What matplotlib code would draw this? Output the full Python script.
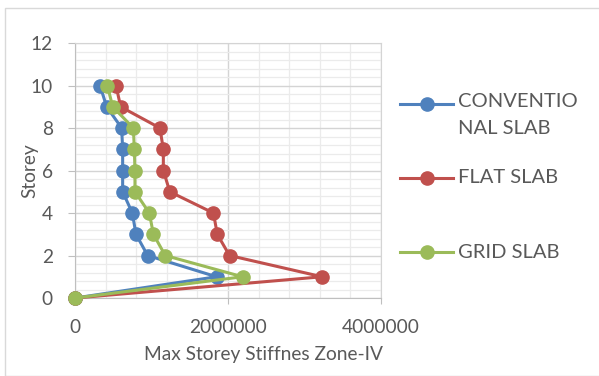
import matplotlib.pyplot as plt
from matplotlib.lines import Line2D
from matplotlib.patches import Rectangle
from matplotlib.ticker import MultipleLocator

storey = [0, 1, 2, 3, 4, 5, 6, 7, 8, 9, 10]
conventional = [0, 1850000, 950000, 797000, 750000, 623000, 623000, 623000, 610000, 414000, 327000]
flat = [0, 3230000, 2020000, 1860000, 1810000, 1240000, 1155000, 1155000, 1110000, 597000, 536000]
grid = [0, 2190000, 1180000, 1025000, 972000, 784000, 784000, 776000, 763000, 493000, 423000]

series = [
    ("CONVENTIO\nNAL SLAB", conventional, "#4F81BD"),
    ("FLAT SLAB", flat, "#C0504D"),
    ("GRID SLAB", grid, "#9BBB59"),
]

plt.rcParams["font.family"] = ["Lato", "DejaVu Sans"]
text_color = "#595959"

fig = plt.figure(figsize=(5.99, 3.76), dpi=100)
ax = fig.add_axes([0.1252, 0.2074, 0.5108, 0.6782])

for label, xs, color in series:
    ax.plot(xs, storey, color=color, lw=2.2, marker="o", ms=9.5, zorder=3,
            clip_on=False)

ax.set_xlim(0, 4000000)
ax.set_ylim(0, 12)
ax.xaxis.set_major_locator(MultipleLocator(2000000))
ax.xaxis.set_minor_locator(MultipleLocator(400000))
ax.yaxis.set_major_locator(MultipleLocator(2))
ax.yaxis.set_minor_locator(MultipleLocator(0.4))
ax.grid(which="major", color="#D4D4D4", lw=1.0)
ax.grid(which="minor", color="#EBEBEB", lw=0.9)
ax.set_axisbelow(True)

for side in ("top", "right"):
    ax.spines[side].set_color("#D4D4D4")
for side in ("left", "bottom"):
    ax.spines[side].set_color("#BFBFBF")

ax.tick_params(which="minor", length=0)
ax.tick_params(axis="y", which="major", length=5, color="#BFBFBF",
               pad=11, labelsize=13.8, labelcolor=text_color)
ax.tick_params(axis="x", which="major", length=4, color="#BFBFBF",
               pad=11, labelsize=13.8, labelcolor=text_color)
ax.ticklabel_format(axis="x", style="plain")

ax.set_xlabel("Max Storey Stiffnes Zone-IV", fontsize=13.8, color=text_color)
ax.set_ylabel("Storey", fontsize=13.8, color=text_color)
ax.xaxis.set_label_coords(0.615, -0.188)
ax.yaxis.set_label_coords(-0.12, 0.5)

# legend drawn by hand so the wrapped label and spacing sit where wanted
W, H = 599, 376
legend_rows = [104, 178, 252]
for (label, xs, color), ypx in zip(series, legend_rows):
    y = 1 - ypx / H
    fig.add_artist(Line2D([400 / W, 453 / W], [y, y], color=color, lw=2.2,
                          transform=fig.transFigure))
    fig.add_artist(Line2D([427 / W], [y], color=color, marker="o", ms=9.5,
                          transform=fig.transFigure))
    if "\n" in label:
        fig.text(458 / W, y + 11 / H, label, fontsize=14.5, color=text_color,
                 va="top", linespacing=1.7, transform=fig.transFigure)
    else:
        fig.text(458 / W, y, label, fontsize=14.5, color=text_color,
                 va="center", transform=fig.transFigure)

fig.add_artist(Rectangle((5 / W, 0), 1.0, 1 - 8 / H, fill=False,
                         edgecolor="#D9D9D9", lw=1.0, transform=fig.transFigure))

fig.savefig("out.png", dpi=100)
